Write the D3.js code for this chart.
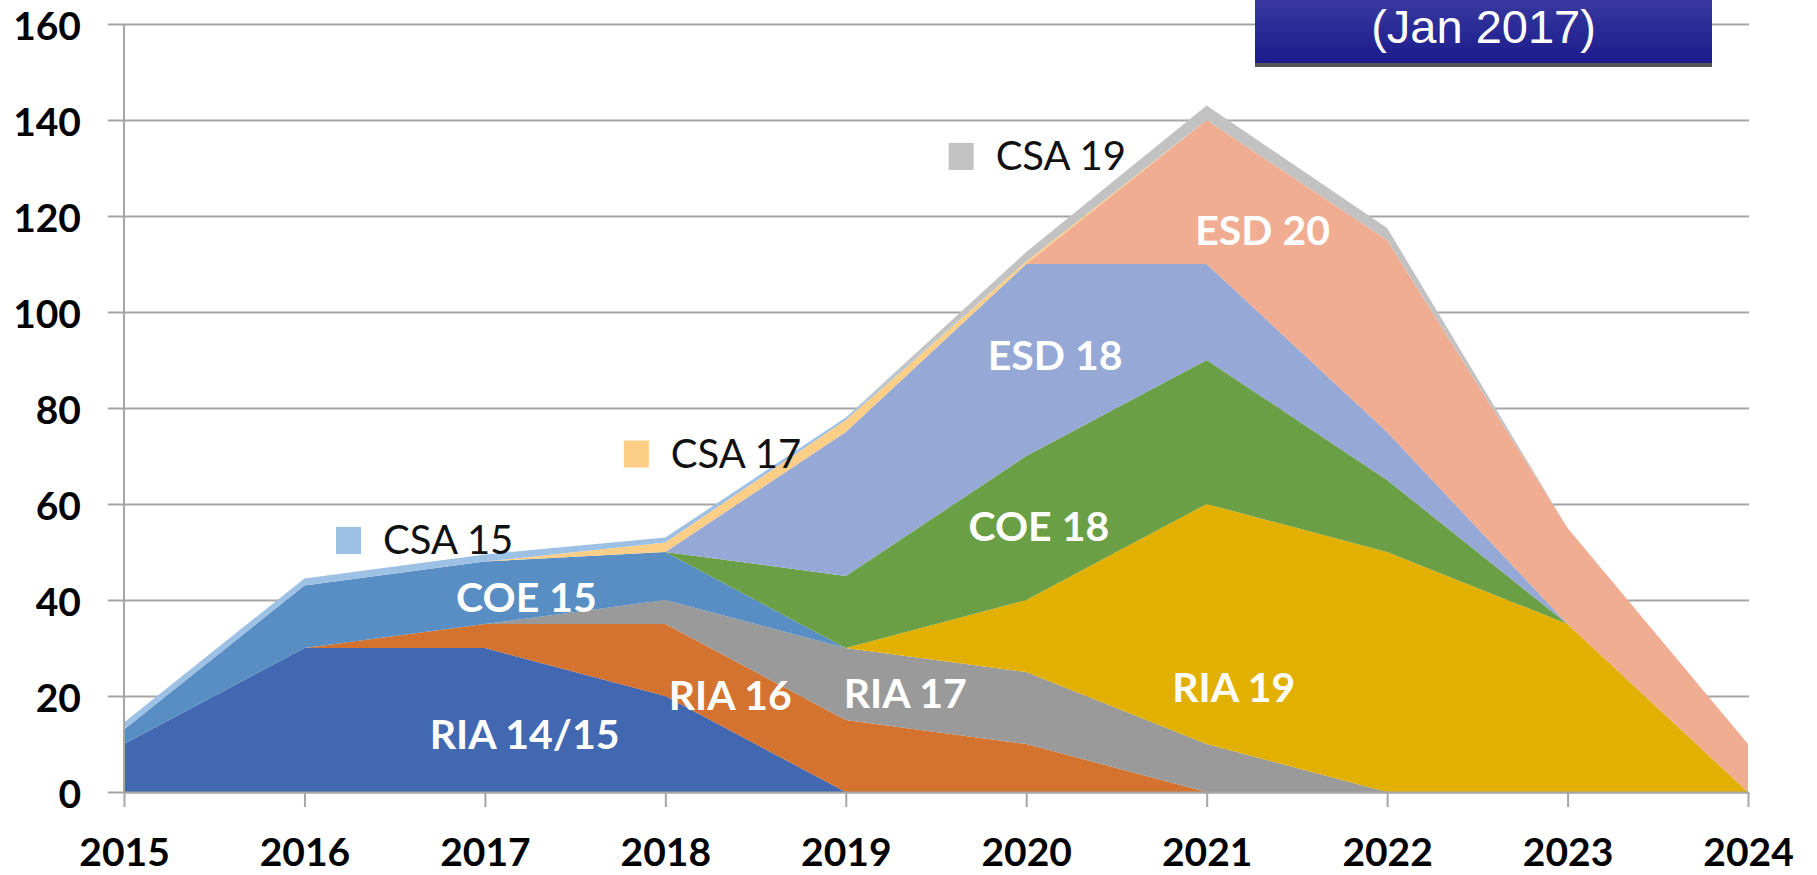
<!DOCTYPE html>
<html><head><meta charset="utf-8">
<script src="https://cdn.jsdelivr.net/npm/d3@7"></script>
<style>
html,body{margin:0;padding:0;background:#fff;}
svg{display:block;}
</style></head>
<body>
<svg id="chart" width="1817" height="875"></svg>
<script>
// ---- data ----
const years = [2015,2016,2017,2018,2019,2020,2021,2022,2023,2024];
const yTicks = [0,20,40,60,80,100,120,140,160];
const seriesNames = ["RIA 14/15","RIA 16","RIA 17","RIA 19","COE 15","COE 18","ESD 18","ESD 20","CSA 17","CSA 15","CSA 19"];
const ria1415 = [10,30,30,20,0,0,0,0,0,0];
const ria16   = [0,0,5,15,15,10,0,0,0,0];
const ria17   = [0,0,0,5,15,15,10,0,0,0];
const ria19   = [0,0,0,0,0,15,50,50,35,0];
const coe15   = [3,13,13,10,0,0,0,0,0,0];
const coe18   = [0,0,0,0,15,30,30,15,0,0];
const esd18   = [0,0,0,0,30,40,20,10,0,0];
const esd20   = [0,0,0,0,0,0,30,40,20,10];
const csa17   = [0,0,0,2,2.5,0.5,0,0,0,0];
const csa15   = [1.5,1.5,1.5,1,0.5,0,0,0,0,0];
const csa19   = [0,0,0,0,0,2,3,2.5,0,0];
const seriesValues = [ria1415,ria16,ria17,ria19,coe15,coe18,esd18,esd20,csa17,csa15,csa19];
const colors = ["#4168B0","#D4722F","#9A9A9A","#E2B000","#588EC3","#6A9F45","#96A8D6","#F0AD91","#FDCE86","#9DC0E5","#C2C2C2"];
const title = "(Jan 2017)";

// labels inside areas: [text, year-position, value-position]
const areaLabels = [
  ["RIA 14/15", 2017.22, 9],
  ["COE 15",    2017.23, 37.6],
  ["RIA 16",    2018.36, 17],
  ["RIA 17",    2019.33, 17.5],
  ["RIA 19",    2021.15, 18.8],
  ["COE 18",    2020.07, 52.3],
  ["ESD 18",    2020.16, 88],
  ["ESD 20",    2021.31, 114]
];
// legend-like labels: [text, colorIndex, year-position, value-position]
const keyLabels = [
  ["CSA 15", 9, 2016.175, 49.6],
  ["CSA 17", 8, 2017.77, 67.6],
  ["CSA 19", 10, 2019.57, 129.6]
];

// ---- chart ----
const svg = d3.select("#chart");
const x = d3.scaleLinear().domain([2015,2024]).range([124,1748]);
const y = d3.scaleLinear().domain([0,160]).range([792,24]);

const table = years.map((yr,i)=>{
  const o = {year: yr};
  seriesNames.forEach((n,k)=>o[n]=seriesValues[k][i]);
  return o;
});
const stack = d3.stack().keys(seriesNames)(table);

// gridlines
svg.append("g").attr("transform","translate(108,0)")
  .call(d3.axisLeft(y).tickValues(yTicks).tickSize(-(1749-108)).tickFormat(""))
  .call(g=>g.select(".domain").remove())
  .call(g=>g.selectAll("line").attr("stroke","#a6a6a6").attr("stroke-width",2));

// areas
const area = d3.area().x(d=>x(d.data.year)).y0(d=>y(d[0])).y1(d=>y(d[1]));
svg.append("g").selectAll("path").data(stack).join("path")
  .attr("d",area).attr("fill",(d,i)=>colors[i]);

// y labels
svg.append("g").attr("transform","translate(108,0)")
  .call(d3.axisLeft(y).tickValues(yTicks).tickSize(0).tickPadding(27))
  .call(g=>g.select(".domain").remove())
  .call(g=>g.selectAll("text").attr("dy","0.4em").attr("font-family","Lato, 'Open Sans', sans-serif")
     .attr("font-weight","bold").attr("font-size",39).attr("fill","#000"));

// y axis line
svg.append("line").attr("x1",x(2015)).attr("x2",x(2015)).attr("y1",y(160)).attr("y2",y(0))
  .attr("stroke","#a6a6a6").attr("stroke-width",2);

// x axis
svg.append("g").attr("transform",`translate(0,${y(0)})`)
  .call(d3.axisBottom(x).tickValues(years).tickFormat(d3.format("d")).tickSize(15).tickSizeOuter(0).tickPadding(31))
  .call(g=>g.select(".domain").attr("stroke","#a6a6a6").attr("stroke-width",2))
  .call(g=>g.selectAll("line").attr("stroke","#a6a6a6").attr("stroke-width",2))
  .call(g=>g.selectAll("text").attr("font-family","Lato, 'Open Sans', sans-serif")
     .attr("font-weight","bold").attr("font-size",39).attr("fill","#000"));

// area labels
svg.append("g").selectAll("text").data(areaLabels).join("text")
  .attr("x",d=>x(d[1])).attr("y",d=>y(d[2]))
  .attr("text-anchor","middle")
  .attr("font-family","Lato, 'Open Sans', sans-serif")
  .attr("font-weight","bold").attr("font-size",41).attr("fill","#fff")
  .text(d=>d[0]);

// key labels
const kg = svg.append("g").selectAll("g").data(keyLabels).join("g")
  .attr("transform",d=>`translate(${x(d[2])},${y(d[3])})`);
kg.append("rect").attr("x",0).attr("y",-27).attr("width",25).attr("height",27)
  .attr("fill",d=>colors[d[1]]);
kg.append("text").attr("x",47).attr("y",0)
  .attr("font-family","Lato, 'Open Sans', sans-serif")
  .attr("font-size",40).attr("fill","#111")
  .text(d=>d[0]);

// title box
const defs = svg.append("defs");
const grad = defs.append("linearGradient").attr("id","tg").attr("x1",0).attr("x2",0).attr("y1",0).attr("y2",1);
grad.append("stop").attr("offset","0%").attr("stop-color","#38389f");
grad.append("stop").attr("offset","100%").attr("stop-color","#1b1b8d");
svg.append("rect").attr("x",1255).attr("y",63).attr("width",457).attr("height",4).attr("fill","#555");
svg.append("rect").attr("x",1255).attr("y",0).attr("width",457).attr("height",63).attr("fill","url(#tg)");
svg.append("text").attr("x",1483.5).attr("y",43).attr("text-anchor","middle")
  .attr("font-family","'Liberation Sans', Arial, sans-serif").attr("font-size",47)
  .attr("fill","#fff").text(title);
</script>
</body></html>
